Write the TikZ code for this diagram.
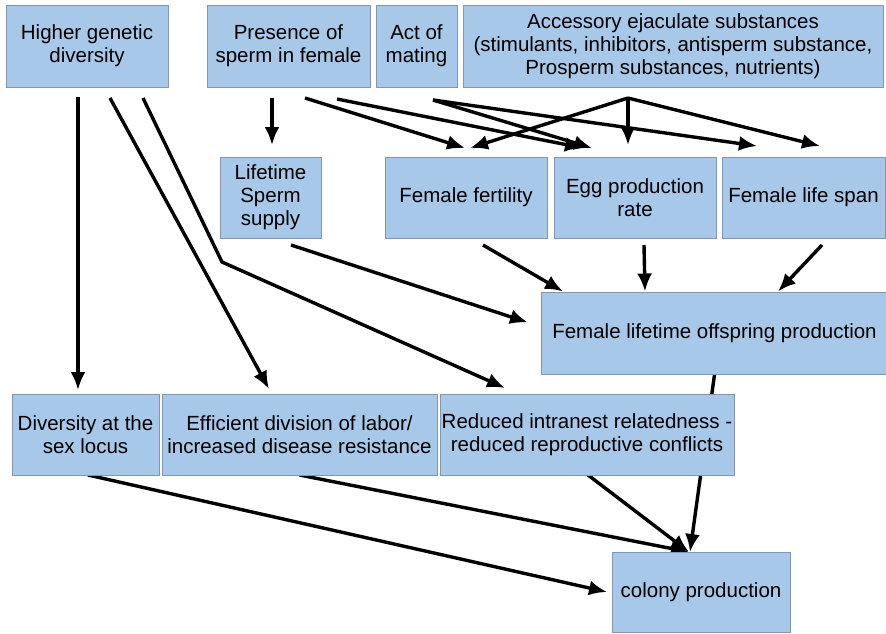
\documentclass[tikz,border=0pt]{standalone}
\usepackage{fontspec}
\setmainfont{Liberation Sans}
\usetikzlibrary{arrows.meta,backgrounds}

\definecolor{boxfill}{RGB}{168,200,234}
\definecolor{boxline}{RGB}{128,150,180}

\begin{document}
\begin{tikzpicture}[x=1pt,y=-1pt,
  factor/.style={rectangle,draw=boxline,fill=boxfill,line width=0.8pt,
    align=center,inner sep=0pt,outer sep=0pt,minimum height=82pt,
    font=\fontsize{20.5}{23}\selectfont},
  effect/.style={-{Latex[length=18pt,width=15pt]},line width=3.4pt}]
  \useasboundingbox (0,0) rectangle (886,633);

  % causes
  \node[factor,minimum width=162pt] (hgd)  at (87,46)    {Higher genetic\\diversity};
  \node[factor,minimum width=163pt] (pres) at (288.5,46) {Presence of\\sperm in female};
  \node[factor,minimum width=81pt]  (act)  at (416.5,46) {Act of\\mating};
  \node[factor,minimum width=420pt] (acc)  at (673,46)
    {Accessory ejaculate substances\\(stimulants, inhibitors, antisperm substance,\\Prosperm substances, nutrients)};

  % female traits
  \node[factor,minimum width=101pt,minimum height=81pt] (lss) at (270.5,197.5) {Lifetime\\Sperm\\supply};
  \node[factor,minimum width=162pt,minimum height=81pt] (ff)  at (466,197.5)   {Female fertility};
  \node[factor,minimum width=162pt,minimum height=81pt] (egg) at (635,197.5)   {Egg production\\rate};
  \node[factor,minimum width=163pt,minimum height=81pt] (fls) at (803.5,197.5) {Female life span};
  \node[factor,minimum width=347pt] (flop) at (714.5,333.5) {Female lifetime offspring production};

  % colony level
  \node[factor,minimum width=147pt,minimum height=81pt] (dsl) at (85.5,434.5) {Diversity at the\\sex locus};
  \node[factor,minimum width=275pt,minimum height=81pt] (edl) at (299.5,434.5)
    {Efficient division of labor/\\increased disease resistance};
  \node[factor,minimum width=294pt,minimum height=81pt] (rir) at (587,434.5)
    {Reduced intranest relatedness -\\reduced reproductive conflicts};
  \node[factor,minimum width=178pt,minimum height=80pt] (col) at (701,592) {colony production};

  \coordinate (kink) at (222,262);

  \begin{pgfonlayer}{background}
  \path[effect]
  ([xshift=-9pt,yshift=-10pt]hgd.south)   edge ([xshift=-7.5pt,yshift=4pt]dsl.north)
  ([xshift=23pt,yshift=-11pt]hgd.south)   edge ([xshift=-30.5pt,yshift=5pt]edl.north)
  ([xshift=-16.5pt,yshift=-11pt]pres.south) edge ([xshift=1.5pt,yshift=12pt]lss.north)
  ([xshift=16.5pt,yshift=-11pt]pres.south)  edge ([xshift=-1pt,yshift=9pt]ff.north)
  ([xshift=48.5pt,yshift=-12pt]pres.south)  edge ([xshift=-52pt,yshift=9pt]egg.north)
  ([xshift=16.5pt,yshift=-13pt]act.south)   edge ([xshift=-43pt,yshift=9pt]egg.north)
  ([xshift=16.5pt,yshift=-13pt]act.south)   edge ([xshift=-46.5pt,yshift=11pt]fls.north)
  ([xshift=-45pt,yshift=-11pt]acc.south)    edge ([xshift=4pt,yshift=9pt]ff.north)
  ([xshift=-45pt,yshift=-11pt]acc.south)    edge ([xshift=-7pt,yshift=12pt]egg.north)
  ([xshift=-45pt,yshift=-11pt]acc.south)    edge ([xshift=16.5pt,yshift=11pt]fls.north)
  ([xshift=20.5pt,yshift=-7pt]lss.south)    edge ([xshift=-13pt,yshift=11pt]flop.west)
  ([xshift=17pt,yshift=-7pt]ff.south)       edge ([xshift=-151.5pt,yshift=1pt]flop.north)
  ([xshift=9pt,yshift=-7pt]egg.south)       edge ([xshift=-69.5pt,yshift=1pt]flop.north)
  ([xshift=18.5pt,yshift=-7pt]fls.south)    edge ([xshift=63.5pt,yshift=1pt]flop.north)
  (flop.south)                              edge ([xshift=-11pt]col.north)
  ([xshift=1pt]rir.south)                   edge ([xshift=-12pt]col.north)
  (edl.south)                               edge ([xshift=-12pt]col.north)
  ([xshift=2.5pt]dsl.south)                 edge ([xshift=-5pt]col.west);
  \draw[effect] ([xshift=56pt,yshift=-11pt]hgd.south) -- (kink)
    -- ([xshift=-82pt,yshift=6pt]rir.north);
  \end{pgfonlayer}
\end{tikzpicture}
\end{document}
